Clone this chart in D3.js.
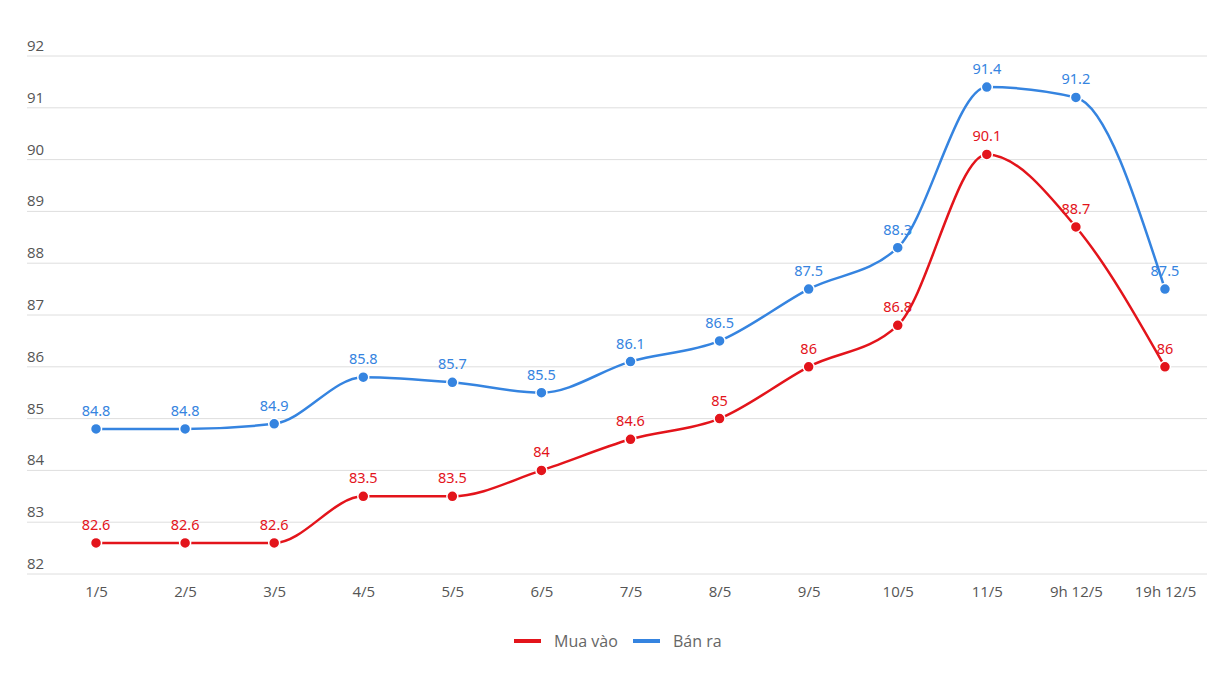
<!DOCTYPE html>
<html><head><meta charset="utf-8">
<script src="https://cdn.jsdelivr.net/npm/d3@7"></script>
<style>body{margin:0;background:#fff}svg{display:block}</style>
</head><body>
<svg id="c" width="1207" height="700"></svg>
<script>
const categories = ["1/5","2/5","3/5","4/5","5/5","6/5","7/5","8/5","9/5","10/5","11/5","9h 12/5","19h 12/5"];
const muaVao = [82.6,82.6,82.6,83.5,83.5,84,84.6,85,86,86.8,90.1,88.7,86];
const banRa = [84.8,84.8,84.9,85.8,85.7,85.5,86.1,86.5,87.5,88.3,91.4,91.2,87.5];
const yTicks = [82,83,84,85,86,87,88,89,90,91,92];
const seriesNames = ["Mua vào","Bán ra"];
const colors = ["#e3141b","#3584e0"];

const svg = d3.select("#c");
const x = d3.scalePoint().domain(categories).range([51.5,1209.5]).padding(0.5);
const y = d3.scaleLinear().domain([82,92]).range([574,56]);

const grid = svg.append("g");
yTicks.forEach(t=>{
  grid.append("line").attr("x1",27).attr("x2",1207).attr("y1",y(t)).attr("y2",y(t))
    .attr("stroke","#dedede").attr("stroke-width",1);
  grid.append("text").attr("x",27).attr("y",y(t)-5).text(t)
    .attr("font-family","Open Sans").attr("font-size",15).attr("fill","#555");
});
const xAxis = d3.axisBottom(x).tickSize(0).tickPadding(0);
const gx = svg.append("g").attr("transform","translate(0,574)").call(xAxis);
gx.select(".domain").remove();
gx.selectAll("text").attr("dy",0).attr("y",23).attr("font-family","Open Sans").attr("font-size",15).attr("fill","#555");

const line = d3.line().x((d,i)=>x(categories[i])).y(d=>y(d)).curve(d3.curveMonotoneX);
[banRa, muaVao].forEach((vals,k)=>{
  const c = k===0?colors[1]:colors[0];
  const g = svg.append("g");
  g.append("path").attr("d",line(vals)).attr("fill","none").attr("stroke",c).attr("stroke-width",2.5);
  g.selectAll("circle").data(vals).join("circle")
    .attr("cx",(d,i)=>x(categories[i])).attr("cy",d=>y(d)).attr("r",5.5)
    .attr("fill",c).attr("stroke","#fff").attr("stroke-width",1.5);
  g.selectAll("text").data(vals).join("text")
    .attr("x",(d,i)=>x(categories[i])).attr("y",d=>y(d)-13).attr("text-anchor","middle")
    .text(d=>d).attr("font-family","Noto Sans").attr("font-size",14.5).attr("fill",c);
});

const leg = svg.append("g");
const lx = [514,633];
seriesNames.forEach((n,i)=>{
  leg.append("line").attr("x1",lx[i]).attr("x2",lx[i]+27).attr("y1",641).attr("y2",641)
    .attr("stroke",colors[i]).attr("stroke-width",4);
  leg.append("text").attr("x",lx[i]+40).attr("y",647).text(n)
    .attr("font-family","Open Sans").attr("font-size",16).attr("fill","#666");
});
</script>
</body></html>
